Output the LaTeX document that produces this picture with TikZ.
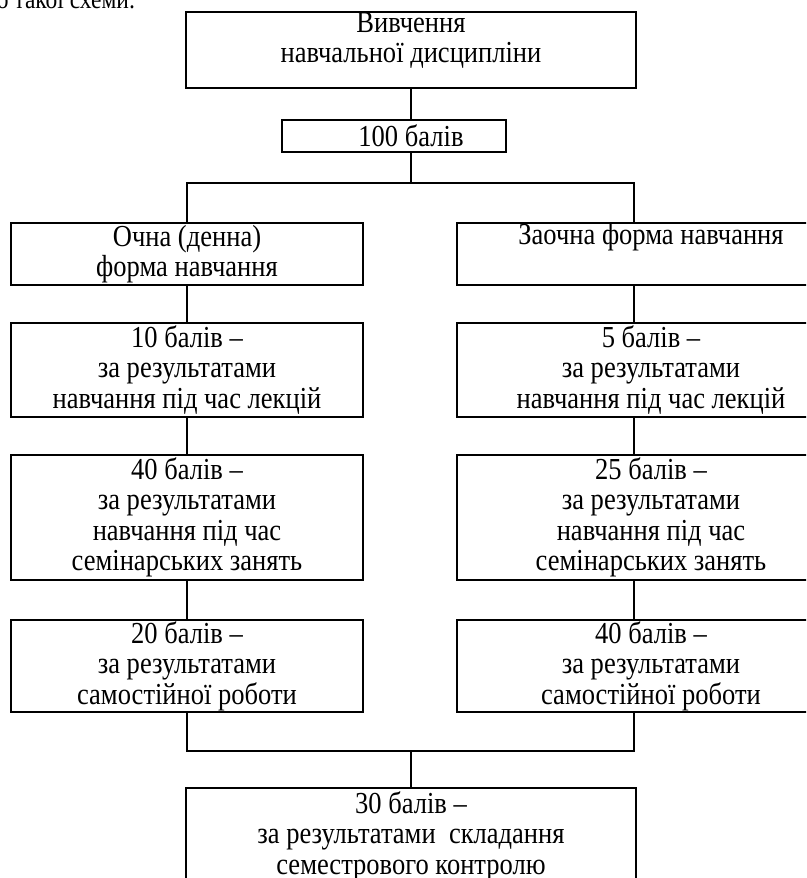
\documentclass[tikz,border=0pt]{standalone}
\usepackage{fontspec}
\setmainfont[FakeStretch=0.87]{Liberation Serif}
\usepackage{tikz}

\tikzset{
  box/.style={draw, line width=2pt, inner sep=0pt, align=center,
    font=\fontsize{30.5}{30.5}\selectfont},
  link/.style={line width=2pt}
}

\begin{document}
\begin{tikzpicture}[x=1pt,y=-1pt]
\useasboundingbox (0,0) rectangle (806,878);
\clip (0,0) rectangle (806,878);
\node [anchor=base east, font=\fontsize{27}{27}\selectfont] (intro) at (139,9) {до такої схеми:};
% top of the scheme
\node [box, minimum width=450pt, minimum height=76pt] (study) at (411,50) {Вивчення\\ навчальної дисципліни\\[-6pt]\mbox{}};
\node [box, minimum width=224pt, minimum height=32pt] (hundred) at (394,136) {\hspace*{34pt}100 балів};
\coordinate (split) at (411,183);
\coordinate (rx) at (634,0);
% left column
\node [box, minimum width=352pt, minimum height=62pt] (ochna) at (187,254) {Очна (денна)\\ форма навчання};
\node [box, minimum width=352pt, minimum height=94pt] (lect10) at (187,370) {10 балів --\\ за результатами\\ навчання під час лекцій};
\node [box, minimum width=352pt, minimum height=125pt] (sem40) at (187,517.5) {40 балів --\\ за результатами\\ навчання під час\\ семінарських занять};
\node [box, minimum width=352pt, minimum height=92pt] (self20) at (187,666) {20 балів --\\ за результатами\\ самостійної роботи};
% right column
\node [box, minimum width=388pt, minimum height=62pt] (zaochna) at (651,254) {Заочна форма навчання\\ \strut};
\node [box, minimum width=388pt, minimum height=94pt] (lect5) at (651,370) {5 балів --\\ за результатами\\ навчання під час лекцій};
\node [box, minimum width=388pt, minimum height=125pt] (sem25) at (651,517.5) {25 балів --\\ за результатами\\ навчання під час\\ семінарських занять};
\node [box, minimum width=388pt, minimum height=92pt] (self40) at (651,666) {40 балів --\\ за результатами\\ самостійної роботи};
% bottom
\coordinate (join) at (411,751);
\node [box, minimum width=450pt, minimum height=96pt] (total) at (411,836) {30 балів --\\ за результатами \ складання\\ семестрового контролю};

\draw [link] (study.south) -- (study.south |- hundred.north);
\draw [link] (hundred.south -| split) -- (split);
\draw [link] (ochna.north) |- (split) -| (zaochna.north -| rx);
\draw [link] (ochna) -- (lect10);
\draw [link] (lect10) -- (sem40);
\draw [link] (sem40) -- (self20);
\draw [link] (zaochna.south -| rx) -- (lect5.north -| rx);
\draw [link] (lect5.south -| rx) -- (sem25.north -| rx);
\draw [link] (sem25.south -| rx) -- (self40.north -| rx);
\draw [link] (self20.south) |- (join) -| (self40.south -| rx);
\draw [link] (join) -- (total.north);
\end{tikzpicture}
\end{document}
